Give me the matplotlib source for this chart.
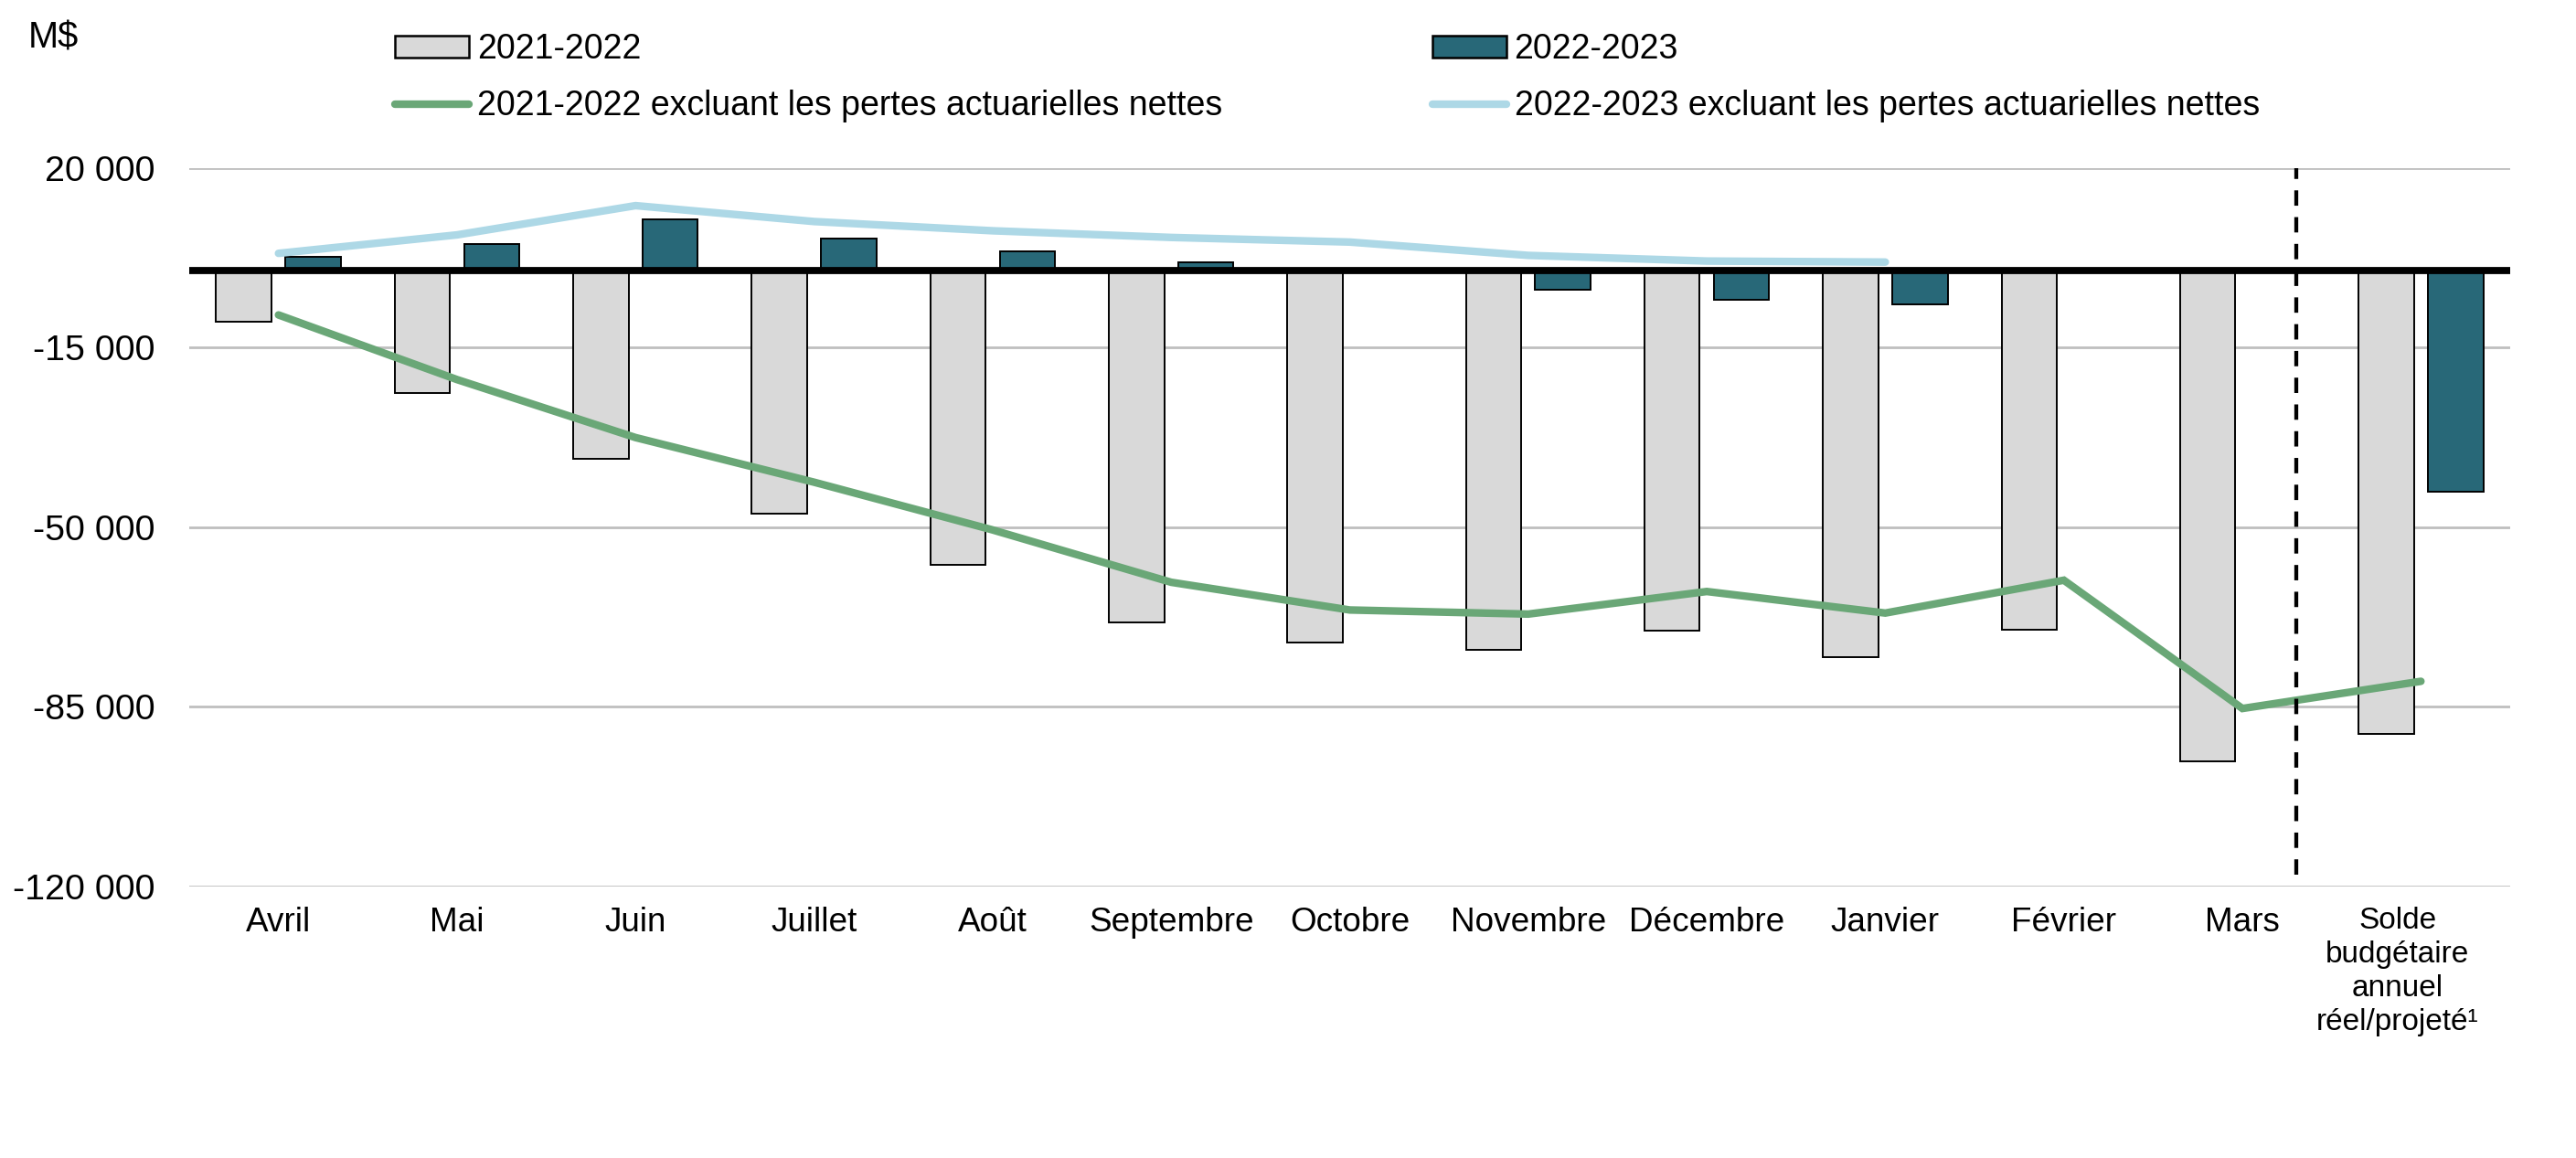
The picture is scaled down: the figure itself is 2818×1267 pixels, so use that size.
import numpy as np
import matplotlib
matplotlib.use("Agg")
import matplotlib.pyplot as plt
from matplotlib.patches import Patch
from matplotlib.lines import Line2D

plt.rcParams['font.family'] = ['Liberation Sans', 'DejaVu Sans']

categories = ["Avril", "Mai", "Juin", "Juillet", "Août", "Septembre", "Octobre",
              "Novembre", "Décembre", "Janvier", "Février", "Mars",
              "Solde\nbudgétaire\nannuel\nréel/projeté¹"]
bal_2021 = [-9900, -23900, -36600, -47300, -57300, -68600, -72400, -73800,
            -70200, -75300, -69900, -95600, -90300]
bal_2022 = [2700, 5300, 10100, 6200, 3800, 1600, -300, -3700, -5600, -6500,
            np.nan, np.nan, -43100]
excl_2021 = [-8600, -21200, -32500, -41200, -50500, -60700, -66100, -66900,
             -62500, -66700, -60300, -85300, -80000]
excl_2022 = [3400, 7000, 12700, 9600, 7800, 6500, 5600, 3000, 1900, 1700,
             np.nan, np.nan, np.nan]
yticks = [-120000, -85000, -50000, -15000, 20000]
legend_labels = ["2021-2022", "2022-2023",
                 "2021-2022 excluant les pertes actuarielles nettes",
                 "2022-2023 excluant les pertes actuarielles nettes"]

C_GRAY = "#d9d9d9"
C_TEAL = "#286878"
C_GREEN = "#6aa777"
C_BLUE = "#add8e6"

W, H, DPI = 2818, 1267, 200
fig = plt.figure(figsize=(W / DPI, H / DPI), dpi=DPI)
ax = fig.add_axes([207 / W, 1 - 970 / H, (2746 - 207) / W, (970 - 184) / H])

x = np.arange(len(categories))
bw = 0.31
off = 0.194
ax.bar(x - off, bal_2021, width=bw, color=C_GRAY, edgecolor="black", linewidth=0.7, zorder=2)
ax.bar(x + off, bal_2022, width=bw, color=C_TEAL, edgecolor="black", linewidth=0.7, zorder=2)
ax.axhline(0, color="black", linewidth=2.8, zorder=2.5)
ax.plot(x, excl_2021, color=C_GREEN, linewidth=3.0, solid_capstyle="round",
        solid_joinstyle="miter", zorder=3)
ax.plot(x, excl_2022, color=C_BLUE, linewidth=3.0, solid_capstyle="round",
        solid_joinstyle="miter", zorder=3)

ax.axvline(11.3, ymin=0.017, ymax=1.0, color="black", linewidth=1.55,
           linestyle=(0, (3.9, 2.9)), zorder=3)

ax.set_xlim(-0.5, len(categories) - 0.5)
ax.set_ylim(yticks[0], yticks[-1])
ax.set_yticks(yticks)
ax.set_yticklabels([f"{v:,}".replace(",", " ") for v in yticks], fontsize=14.2)

tick_pos = x.astype(float)
tick_pos[-1] -= 0.13  # annual label sits slightly left of its bars
ax.set_xticks(tick_pos)
ax.set_xticklabels(categories, fontsize=13.3)
lab = ax.get_xticklabels()[-1]
lab.set_fontsize(12)
lab.set_linespacing(1.25)
ax.tick_params(axis="both", length=0)
ax.tick_params(axis="y", pad=13.5)
ax.tick_params(axis="x", pad=8)
ax.yaxis.grid(True, color="#bfbfbf", linewidth=1.0, zorder=0)
ax.set_axisbelow(True)
for s in ax.spines.values():
    s.set_visible(False)

fig.text(31 / W, 1 - 52.6 / H, "M$", fontsize=14.3, ha="left", va="baseline")

common = dict(frameon=False, borderpad=0, borderaxespad=0, handlelength=2.15,
              handletextpad=0.24, labelspacing=0.7, fontsize=13.5, loc="upper left",
              handleheight=0.6)
h1 = [Patch(facecolor=C_GRAY, edgecolor="black", linewidth=0.9),
      Line2D([], [], color=C_GREEN, linewidth=3.0, solid_capstyle="round")]
h2 = [Patch(facecolor=C_TEAL, edgecolor="black", linewidth=0.9),
      Line2D([], [], color=C_BLUE, linewidth=3.0, solid_capstyle="round")]
leg1 = fig.legend(h1, [legend_labels[0], legend_labels[2]],
                  bbox_to_anchor=(432 / W, 1 - 36 / H), **common)
leg2 = fig.legend(h2, [legend_labels[1], legend_labels[3]],
                  bbox_to_anchor=(1567 / W, 1 - 36 / H), **common)

fig.savefig("out.png", dpi=DPI)
